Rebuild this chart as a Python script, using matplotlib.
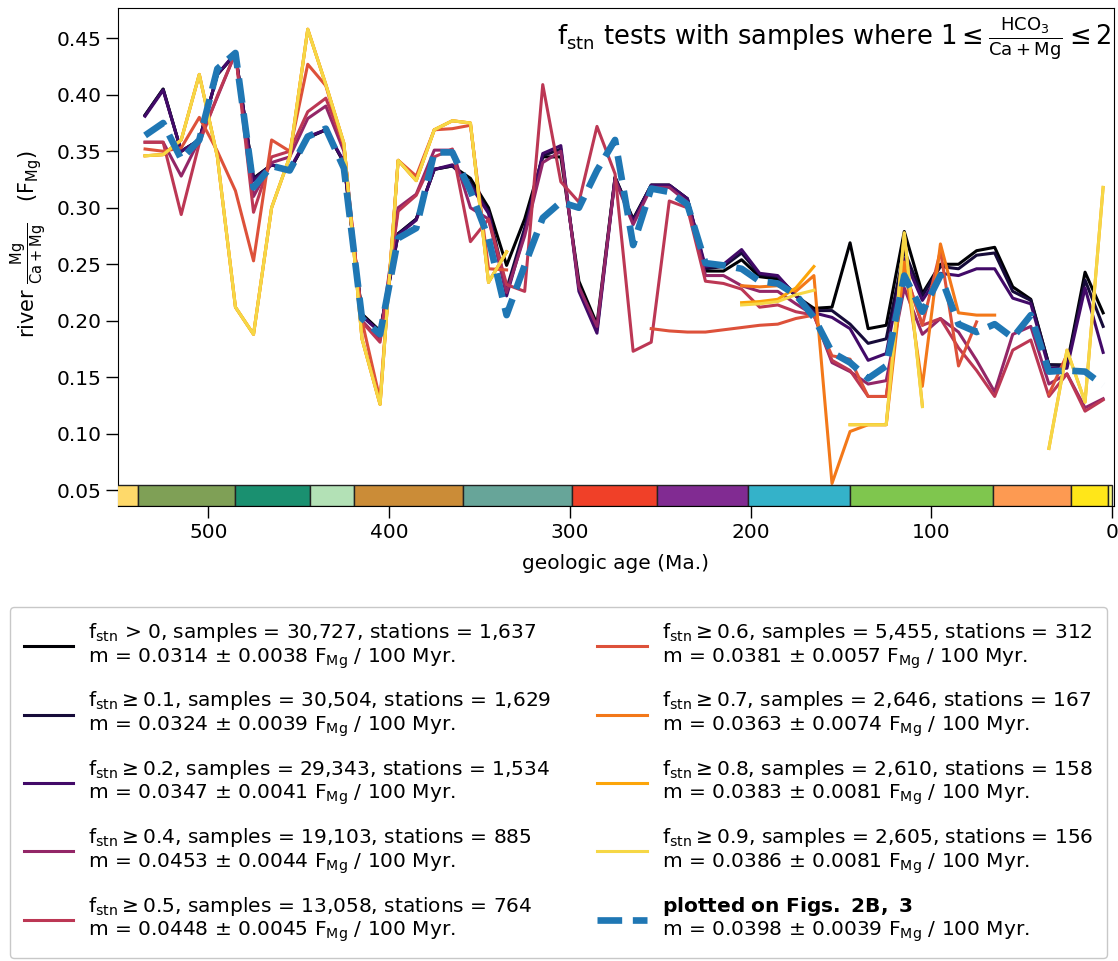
import numpy as np
import matplotlib
matplotlib.use("Agg")
import matplotlib.pyplot as plt
from matplotlib.patches import Rectangle
import matplotlib.transforms as mtransforms

plt.rcParams['font.family'] = ['DejaVu Sans']
plt.rcParams['mathtext.default'] = 'regular'

nan = np.nan
# bin centres (Ma)
ages = np.arange(535, 0, -10)

f_thresholds = [0.0, 0.1, 0.2, 0.4, 0.5, 0.6, 0.7, 0.8, 0.9]

fmg_f00 = [0.382, 0.405, 0.350, 0.360, 0.418, 0.436, 0.326, 0.338, 0.333, 0.362,
           0.369, 0.340, 0.206, 0.191, 0.277, 0.290, 0.334, 0.337, 0.326, 0.300,
           0.249, 0.290, 0.345, 0.345, 0.235, 0.197, 0.327, 0.290, 0.320, 0.320,
           0.308, 0.244, 0.244, 0.254, 0.239, 0.237, 0.222, 0.211, 0.212, 0.269,
           0.193, 0.196, 0.279, 0.224, 0.250, 0.250, 0.262, 0.265, 0.230, 0.219,
           0.161, 0.161, 0.243, 0.207]
fmg_f01 = [0.382, 0.405, 0.350, 0.360, 0.418, 0.436, 0.326, 0.338, 0.333, 0.362,
           0.369, 0.340, 0.205, 0.190, 0.277, 0.290, 0.334, 0.337, 0.322, 0.297,
           0.228, 0.282, 0.346, 0.352, 0.230, 0.192, 0.327, 0.289, 0.320, 0.320,
           0.308, 0.246, 0.248, 0.260, 0.241, 0.239, 0.223, 0.209, 0.209, 0.197,
           0.180, 0.184, 0.262, 0.222, 0.248, 0.246, 0.258, 0.260, 0.226, 0.218,
           0.161, 0.160, 0.236, 0.195]
fmg_f02 = [0.381, 0.404, 0.350, 0.360, 0.418, 0.437, 0.324, 0.338, 0.334, 0.363,
           0.369, 0.341, 0.204, 0.190, 0.276, 0.289, 0.334, 0.338, 0.320, 0.295,
           0.222, 0.278, 0.348, 0.355, 0.226, 0.189, 0.326, 0.288, 0.320, 0.320,
           0.308, 0.248, 0.250, 0.263, 0.242, 0.240, 0.222, 0.207, 0.203, 0.193,
           0.165, 0.171, 0.255, 0.218, 0.242, 0.240, 0.246, 0.246, 0.220, 0.215,
           0.158, 0.158, 0.229, 0.172]
fmg_f04 = [0.358, 0.358, 0.328, 0.360, 0.398, 0.437, 0.310, 0.340, 0.345, 0.379,
           0.390, 0.350, 0.200, 0.183, 0.300, 0.312, 0.351, 0.351, 0.300, 0.290,
           0.225, 0.275, 0.340, 0.350, 0.230, 0.195, 0.325, 0.285, 0.318, 0.318,
           0.305, 0.240, 0.240, 0.231, 0.226, 0.226, 0.215, 0.205, 0.163, 0.155,
           0.144, 0.147, 0.229, 0.188, 0.202, 0.190, 0.165, 0.137, 0.188, 0.195,
           0.144, 0.153, 0.123, 0.131]
fmg_f05 = [0.358, 0.358, 0.294, 0.357, 0.399, 0.437, 0.296, 0.345, 0.350, 0.385,
           0.397, 0.355, 0.199, 0.181, 0.297, 0.311, 0.345, 0.352, 0.270, 0.290,
           0.232, 0.226, 0.409, 0.323, 0.305, 0.372, 0.330, 0.173, 0.181, 0.306,
           0.300, 0.235, 0.233, 0.228, 0.212, 0.214, 0.208, 0.205, 0.165, 0.156,
           0.133, 0.133, 0.245, 0.196, 0.202, 0.176, 0.156, 0.133, 0.174, 0.183,
           0.133, 0.153, 0.120, 0.130]
fmg_f06 = [0.352, 0.350, 0.353, 0.380, 0.350, 0.315, 0.253, 0.360, 0.350, 0.427,
           0.408, 0.354, 0.200, 0.130, 0.342, 0.328, 0.369, 0.370, 0.373, 0.246,
           0.245, nan, nan, nan, nan, nan, nan, nan, 0.193, 0.191,
           0.190, 0.190, 0.192, 0.194, 0.196, 0.197, 0.202, 0.205, 0.169, 0.166,
           0.133, 0.133, 0.246, 0.196, 0.262, 0.160, 0.199, nan, nan, nan,
           0.135, 0.170, nan, nan]
fmg_f07 = [0.346, 0.347, 0.360, 0.418, 0.345, 0.212, 0.188, 0.300, 0.345, 0.458,
           0.409, 0.357, 0.184, 0.126, 0.342, 0.324, 0.369, 0.377, 0.375, 0.234,
           0.261, nan, nan, nan, nan, nan, nan, nan, nan, nan,
           nan, nan, nan, 0.231, 0.230, 0.231, 0.226, 0.240, 0.056, 0.102,
           0.108, 0.108, 0.252, 0.142, 0.268, 0.207, 0.205, 0.205, nan, nan,
           nan, nan, nan, nan]
fmg_f08 = [0.346, 0.347, 0.360, 0.418, 0.345, 0.212, 0.188, 0.300, 0.345, 0.458,
           0.409, 0.357, 0.184, 0.126, 0.342, 0.324, 0.369, 0.377, 0.375, 0.234,
           0.261, nan, nan, nan, nan, nan, nan, nan, nan, nan,
           nan, nan, nan, 0.216, 0.217, 0.219, 0.229, 0.248, nan, 0.108,
           0.108, 0.108, 0.277, 0.125, nan, nan, nan, nan, nan, nan,
           0.087, 0.174, 0.128, 0.318]
fmg_f09 = [0.346, 0.347, 0.360, 0.418, 0.345, 0.212, 0.188, 0.300, 0.345, 0.458,
           0.409, 0.357, 0.184, 0.126, 0.342, 0.324, 0.369, 0.377, 0.375, 0.234,
           0.261, nan, nan, nan, nan, nan, nan, nan, nan, nan,
           nan, nan, nan, 0.214, 0.215, 0.217, 0.223, 0.227, nan, 0.108,
           0.108, 0.108, 0.278, 0.124, nan, nan, nan, nan, nan, nan,
           0.087, 0.174, 0.128, 0.318]
fmg_plotted = [0.364, 0.375, 0.343, 0.360, 0.423, 0.437, 0.318, 0.337, 0.333, 0.363,
               0.370, 0.335, 0.202, 0.188, 0.273, 0.282, 0.349, 0.349, 0.315, 0.273,
               0.205, 0.249, 0.291, 0.305, 0.300, 0.333, 0.360, 0.267, 0.317, 0.314,
               0.303, 0.251, 0.249, 0.246, 0.235, 0.233, 0.223, 0.203, 0.172, 0.163,
               0.149, 0.160, 0.240, 0.208, 0.240, 0.197, 0.190, 0.197, 0.185, 0.205,
               0.155, 0.156, 0.155, 0.143]

series = [fmg_f00, fmg_f01, fmg_f02, fmg_f04, fmg_f05, fmg_f06, fmg_f07, fmg_f08, fmg_f09]

labels = [
    r"$f_{stn}$ > 0, samples = 30,727, stations = 1,637" "\n" r"m = 0.0314 $\pm$ 0.0038 $F_{Mg}$ / 100 Myr.",
    r"$f_{stn} \geq 0.1$, samples = 30,504, stations = 1,629" "\n" r"m = 0.0324 $\pm$ 0.0039 $F_{Mg}$ / 100 Myr.",
    r"$f_{stn} \geq 0.2$, samples = 29,343, stations = 1,534" "\n" r"m = 0.0347 $\pm$ 0.0041 $F_{Mg}$ / 100 Myr.",
    r"$f_{stn} \geq 0.4$, samples = 19,103, stations = 885" "\n" r"m = 0.0453 $\pm$ 0.0044 $F_{Mg}$ / 100 Myr.",
    r"$f_{stn} \geq 0.5$, samples = 13,058, stations = 764" "\n" r"m = 0.0448 $\pm$ 0.0045 $F_{Mg}$ / 100 Myr.",
    r"$f_{stn} \geq 0.6$, samples = 5,455, stations = 312" "\n" r"m = 0.0381 $\pm$ 0.0057 $F_{Mg}$ / 100 Myr.",
    r"$f_{stn} \geq 0.7$, samples = 2,646, stations = 167" "\n" r"m = 0.0363 $\pm$ 0.0074 $F_{Mg}$ / 100 Myr.",
    r"$f_{stn} \geq 0.8$, samples = 2,610, stations = 158" "\n" r"m = 0.0383 $\pm$ 0.0081 $F_{Mg}$ / 100 Myr.",
    r"$f_{stn} \geq 0.9$, samples = 2,605, stations = 156" "\n" r"m = 0.0386 $\pm$ 0.0081 $F_{Mg}$ / 100 Myr.",
]
label_plotted = r"$\bf{plotted\ on\ Figs.\ 2B,\ 3}$" "\n" r"m = 0.0398 $\pm$ 0.0039 $F_{Mg}$ / 100 Myr."

# geologic time scale (period boundaries, Ma)
period_bounds = [635.0, 538.8, 485.4, 443.8, 419.2, 358.9, 298.9, 251.9, 201.4, 145.0, 66.0, 23.03, 2.58, 0.0]
period_colors = ['#FED96A', '#7FA056', '#1A9070', '#B3E1B6', '#CB8C37', '#67A599',
                 '#F04028', '#812B92', '#34B2C9', '#7FC64E', '#FD9A52', '#FFE619', '#F9F97F']

fig = plt.figure(figsize=(11.18, 9.61), dpi=100)
ax = fig.add_axes([0.1055, 0.4735, 0.8909, 0.5182])

colors = plt.cm.inferno(np.array(f_thresholds))
handles = []
for vals, c in zip(series, colors):
    h, = ax.plot(ages, vals, color=c, lw=2.2, zorder=2)
    handles.append(h)
hp, = ax.plot(ages, fmg_plotted, color='#1f77b4', lw=4.8, ls='--', zorder=3)
handles.append(hp)

ax.set_xlim(550, -1)
ax.set_ylim(0.0361, 0.4768)

trans = mtransforms.blended_transform_factory(ax.transData, ax.transAxes)
for i, c in enumerate(period_colors):
    lo, hi = period_bounds[i + 1], period_bounds[i]
    ax.add_patch(Rectangle((hi, 0), lo - hi, 0.042, transform=trans,
                           facecolor=c, edgecolor='#222222', lw=1.0, zorder=4, clip_on=True))

ax.set_xticks([500, 400, 300, 200, 100, 0])
ax.set_yticks(np.arange(0.05, 0.451, 0.05))
ax.yaxis.set_major_formatter(matplotlib.ticker.FormatStrFormatter('%.2f'))
ax.tick_params(labelsize=14.5, length=8.5, width=1, pad=3.5)
ax.set_xlabel('geologic age (Ma.)', fontsize=14.5, labelpad=9)
ax.set_ylabel(r'river $\frac{Mg}{Ca + Mg}$   $(F_{Mg})$', fontsize=15)
ax.yaxis.set_label_coords(-0.069, 0.525)

ax.text(0.997, 0.988, r'$f_{stn}$ tests with samples where $1 \leq \frac{HCO_3}{Ca + Mg} \leq 2$',
        transform=ax.transAxes, ha='right', va='top', fontsize=18.5)

leg = fig.legend(handles, labels + [label_plotted], loc='upper center',
                 bbox_to_anchor=(0.4995, 1 - 607 / 961), borderaxespad=0.0, ncol=2, fontsize=14.5,
                 handlelength=2.45, handletextpad=0.75, labelspacing=0.94, columnspacing=2.3,
                 borderpad=0.7, frameon=True, fancybox=True, edgecolor='#bbbbbb')
for t in leg.get_texts():
    t.set_linespacing(1.12)

fig.savefig('out.png', dpi=100)
